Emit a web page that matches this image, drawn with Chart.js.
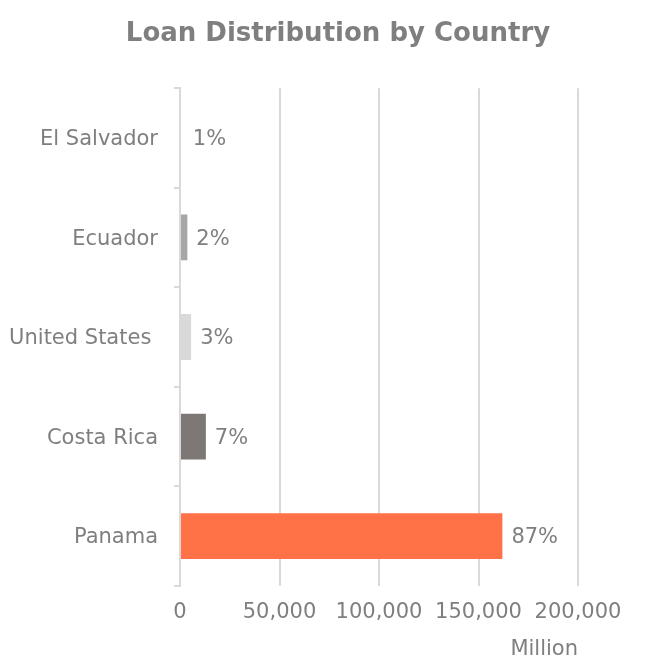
<!DOCTYPE html>
<html>
<head>
<meta charset="utf-8">
<script src="https://cdn.jsdelivr.net/npm/chart.js@4.4.1/dist/chart.umd.min.js"></script>
<style>
  html, body { margin: 0; padding: 0; background: #fff; }
  #wrap { width: 655px; height: 666px; }
</style>
</head>
<body>
<div id="wrap"><canvas id="loan-country-chart"></canvas></div>
<script>
// Loan volume per country (million)
const countries = ['El Salvador', 'Ecuador', 'United States ', 'Costa Rica', 'Panama'];
const loans     = [1900, 3700, 5600, 13000, 162000];
const barColors = ['#ffffff', '#a6a6a6', '#d9d9d9', '#7d7875', '#ff7247'];
const xTicks    = [0, 50000, 100000, 150000, 200000];

const FONT = "'DejaVu Sans', Verdana, sans-serif";
const GREY = '#7f7f7f';

const total = loans.reduce((a, b) => a + b, 0);

// share-of-total label to the right of every bar
const shareLabels = {
  id: 'shareLabels',
  afterDatasetsDraw(chart) {
    const ctx = chart.ctx;
    const meta = chart.getDatasetMeta(0);
    ctx.save();
    ctx.font = '21px ' + FONT;
    ctx.fillStyle = GREY;
    ctx.textBaseline = 'middle';
    ctx.textAlign = 'left';
    meta.data.forEach((bar, i) => {
      const pct = Math.round(loans[i] / total * 100);
      ctx.fillText(pct + '%', bar.x + 9, bar.y + 2);
    });
    ctx.restore();
  }
};

new Chart(document.getElementById('loan-country-chart'), {
  type: 'bar',
  data: {
    labels: countries,
    datasets: [{
      data: loans,
      backgroundColor: barColors,
      barPercentage: 0.46,
      categoryPercentage: 1
    }]
  },
  plugins: [shareLabels],
  options: {
    indexAxis: 'y',
    responsive: true,
    maintainAspectRatio: false,
    animation: false,
    // negative right padding pushes the title centre to the right
    layout: { padding: { left: 8, right: -13, bottom: 6 } },
    plugins: {
      legend: { display: false },
      tooltip: { enabled: false },
      title: {
        display: true,
        text: 'Loan Distribution by Country',
        color: GREY,
        font: { family: FONT, size: 26, weight: 'bold' },
        padding: { top: 19, bottom: 38 }
      }
    },
    scales: {
      x: {
        min: 0,
        max: 200000,
        afterBuildTicks(axis) { axis.ticks = xTicks.map(v => ({ value: v })); },
        // keep room on the right for the last tick label
        afterFit(axis) { axis.paddingRight = 77; },
        grid: { color: '#d9d9d9', lineWidth: 2, drawTicks: false },
        border: { display: false },
        ticks: {
          color: GREY,
          padding: 14,
          font: { family: FONT, size: 21 },
          maxRotation: 0,
          callback: v => v.toLocaleString('en-US')
        },
        title: {
          display: true,
          text: 'Million',
          align: 'end',
          color: GREY,
          font: { family: FONT, size: 21, lineHeight: 1 },
          padding: { top: 0, bottom: 0 }
        }
      },
      y: {
        afterFit(axis) { axis.width = 172; },
        grid: { drawOnChartArea: false, color: '#d9d9d9', lineWidth: 2, tickLength: 6 },
        border: { color: '#d9d9d9', width: 2 },
        ticks: {
          color: GREY,
          padding: 16,
          labelOffset: 2,
          font: { family: FONT, size: 21 }
        }
      }
    }
  }
});
</script>
</body>
</html>
